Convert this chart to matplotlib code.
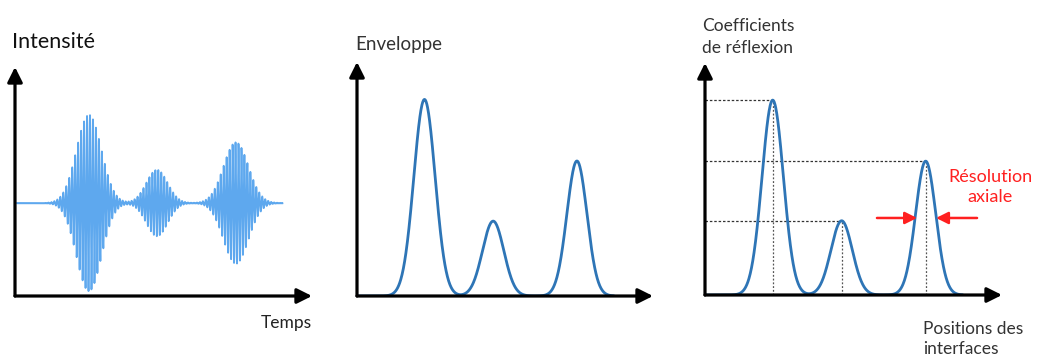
import numpy as np
import matplotlib.pyplot as plt

plt.rcParams['font.family'] = ['Lato', 'DejaVu Sans']

# ---------------------------
# DONNEES (unités arbitraires, axes 0..10 x 0..1)
# ---------------------------
# panneau 1 : signal RF
rf_centres = [2.49, 4.78, 7.44]
rf_amplitudes = [0.385, 0.145, 0.265]
rf_largeurs = [0.42, 0.36, 0.42]
rf_ligne_base = 0.406
rf_debut, rf_fin = 0.07, 9.0
rf_freq = 10.0  # cycles par unité

# panneaux 2 et 3 : enveloppes / coefficients de réflexion
env_centres = [2.28, 4.60, 7.43]
env_hauteurs = [0.84, 0.32, 0.577]
env_largeurs = [0.36, 0.36, 0.34]
env_debut, env_fin = 0.05, 8.65

# positions des panneaux en pixels (gauche, droite, bas, haut)
W, H = 1039, 359
panneaux = [(15, 312, 296, 67), (357, 653, 296, 62), (705, 1002, 295, 63)]

BLEU_CLAIR = "#5ea8ee"
BLEU = "#2e75b6"
ROUGE = "#ff2020"

fig = plt.figure(figsize=(W / 100, H / 100), dpi=100)
fig.patch.set_facecolor("white")

axes = []
for g, d, b, h in panneaux:
    ax = fig.add_axes([g / W, (H - b) / H, (d - g) / W, (b - h) / H])
    ax.set_xlim(0, 10)
    ax.set_ylim(0, 1)
    ax.axis("off")
    for xy in [(1, 0), (0, 1)]:
        ax.annotate("", xy=xy, xytext=(0, 0), xycoords="axes fraction",
                    arrowprops=dict(arrowstyle="-|>,head_length=0.6,head_width=0.3",
                                    lw=2.3, color="black", shrinkA=0, shrinkB=0,
                                    mutation_scale=15), zorder=5)
    axes.append(ax)


def enveloppe(x, centres, hauteurs, largeurs):
    y = np.zeros_like(x)
    for c, a, s in zip(centres, hauteurs, largeurs):
        y = y + a * np.exp(-0.5 * ((x - c) / s) ** 2)
    return y


# ---------------------------
# PANNEAU 1 : Intensité
# ---------------------------
ax1 = axes[0]
x = np.linspace(rf_debut, rf_fin, 8000)
env = enveloppe(x, rf_centres, rf_amplitudes, rf_largeurs)
ax1.plot(x, rf_ligne_base + env * np.sin(2 * np.pi * rf_freq * x),
         color=BLEU_CLAIR, lw=1.3)
ax1.plot([rf_debut, rf_fin], [rf_ligne_base, rf_ligne_base], color=BLEU_CLAIR, lw=1.0)
ax1.text(-0.01, 1.085, "Intensité", transform=ax1.transAxes, fontsize=15.5,
         color="#111111", ha="left", va="baseline")
ax1.text(1.0, -0.14, "Temps", transform=ax1.transAxes, fontsize=12.5,
         color="#222222", ha="right", va="baseline")

# ---------------------------
# PANNEAU 2 : Enveloppe
# ---------------------------
ax2 = axes[1]
xe = np.linspace(env_debut, env_fin, 1000)
ax2.plot(xe, enveloppe(xe, env_centres, env_hauteurs, env_largeurs), color=BLEU, lw=2.0)
ax2.text(-0.005, 1.05, "Enveloppe", transform=ax2.transAxes, fontsize=13.5,
         color="#333333", ha="left", va="baseline")

# ---------------------------
# PANNEAU 3 : Coefficients de réflexion
# ---------------------------
ax3 = axes[2]
ax3.plot(xe, enveloppe(xe, env_centres, env_hauteurs, env_largeurs), color=BLEU, lw=2.0)
for c, a in zip(env_centres, env_hauteurs):
    ax3.plot([0, c], [a, a], color="#333333", lw=0.9, ls=(0, (2, 1.5)), zorder=1)
    ax3.plot([c, c], [0, a], color="#555555", lw=0.9, ls=(0, (1.5, 1.5)), zorder=1)

y_res = 0.332
ax3.annotate("", xy=(7.14, y_res), xytext=(5.79, y_res),
             arrowprops=dict(arrowstyle="-|>,head_length=0.6,head_width=0.3",
                             lw=1.8, color=ROUGE, shrinkA=0, shrinkB=0, mutation_scale=12))
ax3.annotate("", xy=(7.78, y_res), xytext=(9.16, y_res),
             arrowprops=dict(arrowstyle="-|>,head_length=0.6,head_width=0.3",
                             lw=1.8, color=ROUGE, shrinkA=0, shrinkB=0, mutation_scale=12))
ax3.text(9.6, 0.465, "Résolution\naxiale", fontsize=13, color=ROUGE,
         ha="center", va="center", linespacing=1.3, clip_on=False)

# lignes de base en pixels : 27 et 53
ax3.text(-0.01, (295 - 53) / 232, "Coefficients\nde réflexion", transform=ax3.transAxes,
         fontsize=12.5, color="#333333", ha="left", va="baseline", linespacing=1.45)
# lignes de base en pixels : 332 et 354
ax3.text(0.735, (295 - 354) / 232, "Positions des\ninterfaces", transform=ax3.transAxes,
         fontsize=12.5, color="#333333", ha="left", va="baseline", linespacing=1.3)

plt.savefig("out.png", dpi=100, facecolor="white")
